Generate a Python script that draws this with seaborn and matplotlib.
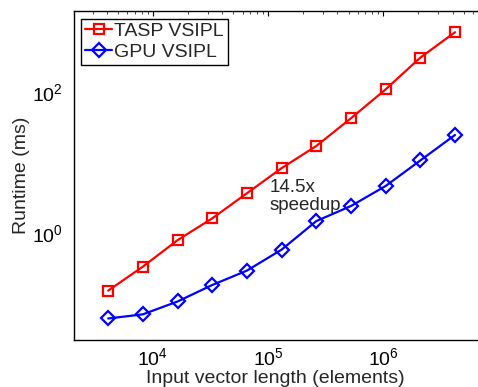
import matplotlib
matplotlib.use("Agg")
import matplotlib.pyplot as plt
import matplotlib.ticker as mticker
import seaborn as sns
import pandas as pd

# vector lengths (elements)
sizes = [4096, 8192, 16384, 32768, 65536, 131072, 262144,
         524288, 1048576, 2097152, 4194304]
# runtimes in ms
tasp_ms = [0.154, 0.337, 0.80, 1.63, 3.7, 8.4, 17.3, 42.8, 110, 310, 710]
gpu_ms = [0.062, 0.071, 0.108, 0.185, 0.296, 0.587, 1.49, 2.44, 4.69, 10.8, 24.8]

sns.set_style("white")
plt.rcParams["font.family"] = ["Liberation Sans", "DejaVu Sans"]
plt.rcParams["mathtext.fontset"] = "custom"
plt.rcParams["mathtext.rm"] = "Liberation Sans"
plt.rcParams["xtick.direction"] = "in"
plt.rcParams["ytick.direction"] = "in"

df = pd.DataFrame({"n": sizes, "tasp": tasp_ms, "gpu": gpu_ms})

fig = plt.figure(figsize=(4.78, 3.87), dpi=100)
ax = fig.add_axes([0.1538, 0.1214, 0.8462, 0.8502])

sns.lineplot(data=df, x="n", y="tasp", ax=ax, color="#ff0000", marker="s",
             markersize=7, markerfacecolor="none", markeredgecolor="#ff0000",
             markeredgewidth=1.6, linewidth=1.6, label="TASP VSIPL")
sns.lineplot(data=df, x="n", y="gpu", ax=ax, color="#0000ff", marker="D",
             markersize=7, markerfacecolor="none", markeredgecolor="#0000ff",
             markeredgewidth=1.6, linewidth=1.6, label="GPU VSIPL")

ax.set_xscale("log")
ax.set_yscale("log")
ax.set_xlim(2048, 6.64e6)
ax.set_ylim(0.0307, 1420)

ax.yaxis.set_major_locator(mticker.FixedLocator([1, 100]))
ax.yaxis.set_minor_locator(mticker.NullLocator())
ax.xaxis.set_major_locator(mticker.FixedLocator([1e4, 1e5, 1e6]))
ax.xaxis.set_minor_locator(mticker.LogLocator(base=10, subs=range(2, 10), numticks=20))

ax.tick_params(axis="both", which="major", length=3.6, width=0.8,
               labelsize=14, colors="black", top=True, pad=5)
ax.tick_params(axis="x", which="minor", length=2.2, width=0.6, top=True)
ax.tick_params(axis="y", pad=8)

for side in ["left", "bottom", "top"]:
    ax.spines[side].set_color("black")
    ax.spines[side].set_linewidth(1.0)
ax.spines["right"].set_visible(False)

ax.set_xlabel("Input vector length (elements)", fontsize=14, labelpad=1)
ax.set_ylabel("Runtime (ms)", fontsize=14, labelpad=1)

ax.text(1.03e5, 5.9, "14.5x\nspeedup", fontsize=13.5, va="top", ha="left",
        linespacing=1.05)

leg = ax.legend(loc="upper left", fontsize=14, frameon=True, fancybox=False,
                framealpha=1, edgecolor="black", handlelength=1.4,
                handletextpad=0.1, borderpad=0.2, labelspacing=0.15,
                borderaxespad=0.4)
leg.get_frame().set_linewidth(1.0)

fig.savefig("out.png", dpi=100)
